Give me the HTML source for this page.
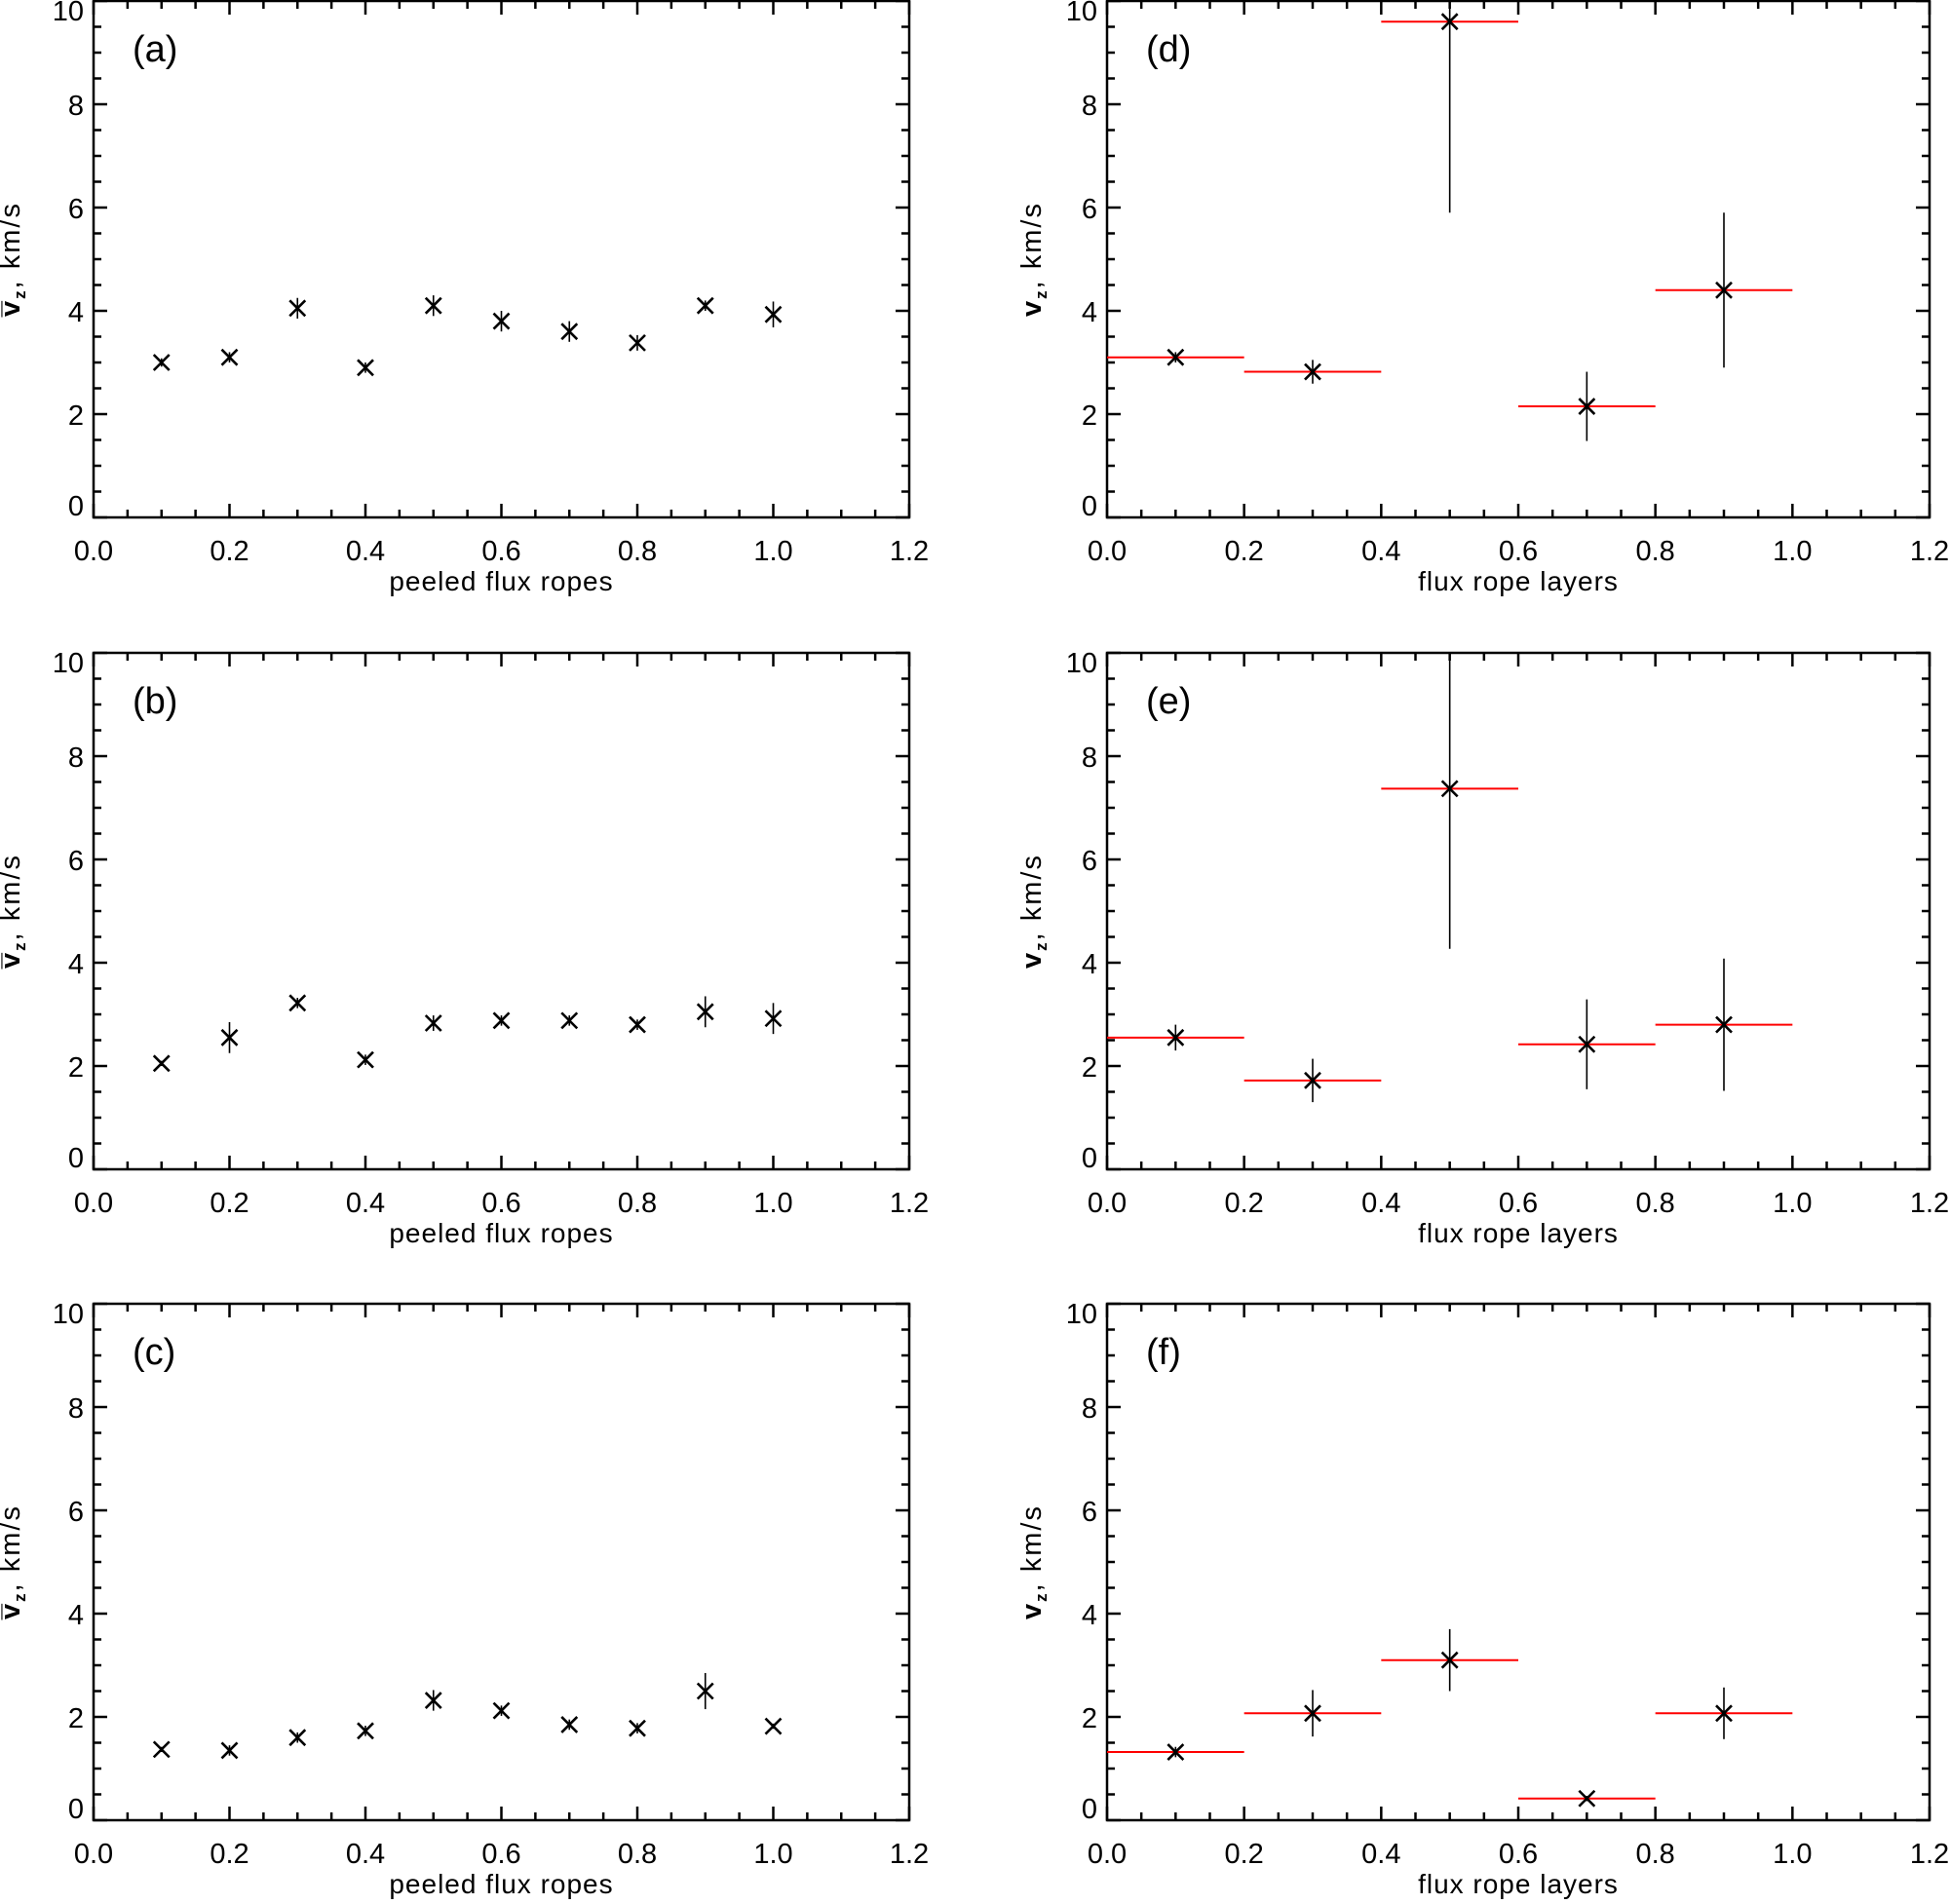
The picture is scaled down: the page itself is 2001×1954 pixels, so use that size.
<!DOCTYPE html>
<html><head><meta charset="utf-8">
<style>
html,body{margin:0;padding:0;background:#fff;}
svg{display:block;font-family:"Liberation Sans",sans-serif;}
</style></head>
<body>
<svg id="fig" width="2001" height="1954" viewBox="0 0 2001 1954" xmlns="http://www.w3.org/2000/svg"></svg>
<script>
const xs10 = [0.1,0.2,0.3,0.4,0.5,0.6,0.7,0.8,0.9,1.0];
const aVals = [3.0,3.1,4.05,2.9,4.1,3.8,3.6,3.38,4.1,3.93];
const aErrs = [0.08,0.1,0.2,0.1,0.2,0.2,0.2,0.15,0.1,0.25];
const bVals = [2.05,2.55,3.22,2.12,2.83,2.88,2.88,2.8,3.05,2.92];
const bErrs = [0.05,0.3,0.1,0.1,0.15,0.1,0.1,0.1,0.3,0.3];
const cVals = [1.37,1.35,1.6,1.73,2.32,2.12,1.85,1.78,2.5,1.82];
const cErrs = [0.05,0.1,0.1,0.1,0.2,0.1,0.1,0.1,0.35,0.05];
const xs5 = [0.1,0.3,0.5,0.7,0.9];
const dVals = [3.1,2.82,9.6,2.15,4.4];
const dErrs = [0.1,0.23,3.7,0.67,1.5];
const eVals = [2.55,1.72,7.37,2.42,2.8];
const eErrs = [0.25,0.42,3.1,0.87,1.28];
const fVals = [1.32,2.07,3.1,0.42,2.07];
const fErrs = [0.1,0.45,0.6,0.05,0.5];
const xTicks = ["0.0","0.2","0.4","0.6","0.8","1.0","1.2"];
const yTicks = ["0","2","4","6","8","10"];

const NS="http://www.w3.org/2000/svg";
const svg=document.getElementById('fig');
function mk(tag,attrs,parent){const e=document.createElementNS(NS,tag);for(const k in attrs)e.setAttribute(k,attrs[k]);(parent||svg).appendChild(e);return e;}

const panels=[
 {id:'a',x0:96,x1:933,y0:531,xs:xs10,v:aVals,e:aErrs,red:false,xt:'peeled flux ropes',bar:true},
 {id:'b',x0:96,x1:933,y0:1200,xs:xs10,v:bVals,e:bErrs,red:false,xt:'peeled flux ropes',bar:true},
 {id:'c',x0:96,x1:933,y0:1868,xs:xs10,v:cVals,e:cErrs,red:false,xt:'peeled flux ropes',bar:true},
 {id:'d',x0:1136,x1:1980,y0:531,xs:xs5,v:dVals,e:dErrs,red:true,xt:'flux rope layers',bar:false},
 {id:'e',x0:1136,x1:1980,y0:1200,xs:xs5,v:eVals,e:eErrs,red:true,xt:'flux rope layers',bar:false},
 {id:'f',x0:1136,x1:1980,y0:1868,xs:xs5,v:fVals,e:fErrs,red:true,xt:'flux rope layers',bar:false}
];

panels.forEach(p=>{
  const H=530, y1=p.y0-H;
  const X=v=>p.x0+(p.x1-p.x0)*v/1.2;
  const Y=v=>p.y0-H*v/10;
  const g=mk('g',{});
  
  
  const clipId='clip'+p.id;
  const cp=mk('clipPath',{id:clipId},g);
  mk('rect',{x:p.x0,y:y1,width:p.x1-p.x0,height:H},cp);
  const frame=mk('rect',{x:p.x0,y:y1,width:p.x1-p.x0,height:H,fill:'none',stroke:'#000','stroke-width':2.5},g);
  
  
  for(let i=0;i<=24;i++){
    const v=i*0.05, x=X(v), L=(i%4===0)?14:8;
    mk('line',{x1:x,y1:p.y0,x2:x,y2:p.y0-L,stroke:'#000','stroke-width':2.5},g);
    mk('line',{x1:x,y1:y1,x2:x,y2:y1+L,stroke:'#000','stroke-width':2.5},g);
  }
  xTicks.forEach((t,i)=>{
    const tx=mk('text',{x:X(i*0.2),y:p.y0+44,'font-size':29,'text-anchor':'middle'},g);
    tx.textContent=t;
    
    
  });
  for(let i=0;i<=20;i++){
    const v=i*0.5, y=Y(v), L=(i%4===0)?14:8;
    mk('line',{x1:p.x0,y1:y,x2:p.x0+L,y2:y,stroke:'#000','stroke-width':2.5},g);
    mk('line',{x1:p.x1,y1:y,x2:p.x1-L,y2:y,stroke:'#000','stroke-width':2.5},g);
  }
  yTicks.forEach((t,i)=>{
    const yy=Y(i*2);
    const ty=mk('text',{x:p.x0-10,y:i===0?yy-2:(i===5?yy+20:yy+11),'font-size':29,'text-anchor':'end'},g);
    ty.textContent=t;
    
    
  });
  const xt=mk('text',{x:(p.x0+p.x1)/2,y:p.y0+75,'font-size':28,'text-anchor':'middle','letter-spacing':1},g);
  xt.textContent=p.xt;
  
  
  const ycx=p.x0-(p.bar?76:68), ycy=p.y0-H/2;
  const yt=mk('text',{x:ycx,y:ycy,'font-size':29,'text-anchor':'middle',transform:`rotate(-90 ${ycx} ${ycy})`,'letter-spacing':2},g);
  yt.innerHTML=(p.bar?'<tspan font-weight="bold">v\u0305</tspan>':'<tspan font-weight="bold">v</tspan>')+'<tspan font-size="17" font-weight="bold" dy="6">z</tspan><tspan dy="-6">, km/s</tspan>';
  
  
  const lab=mk('text',{x:p.x0+40,y:y1+62,'font-size':38},g);
  lab.textContent='('+p.id+')';
  
  
  const dg=mk('g',{'clip-path':`url(#${clipId})`},g);
  
  
  p.xs.forEach((xv,i)=>{
    const cx=X(xv), cy=Y(p.v[i]);
    if(p.red){
      const r=mk('line',{x1:X(xv-0.1),y1:cy,x2:X(xv+0.1),y2:cy,stroke:'#ff0000','stroke-width':2},dg);
      
      
    }
    const eb=mk('line',{x1:cx,y1:Y(p.v[i]-p.e[i]),x2:cx,y2:Y(p.v[i]+p.e[i]),stroke:'#000','stroke-width':1.6},dg);
    
    
    const s=8;
    const m=mk('path',{d:`M${cx-s} ${cy-s}L${cx+s} ${cy+s}M${cx-s} ${cy+s}L${cx+s} ${cy-s}`,stroke:'#000','stroke-width':2.6,fill:'none'},dg);
    
    
  });
});
</script>
</body></html>
